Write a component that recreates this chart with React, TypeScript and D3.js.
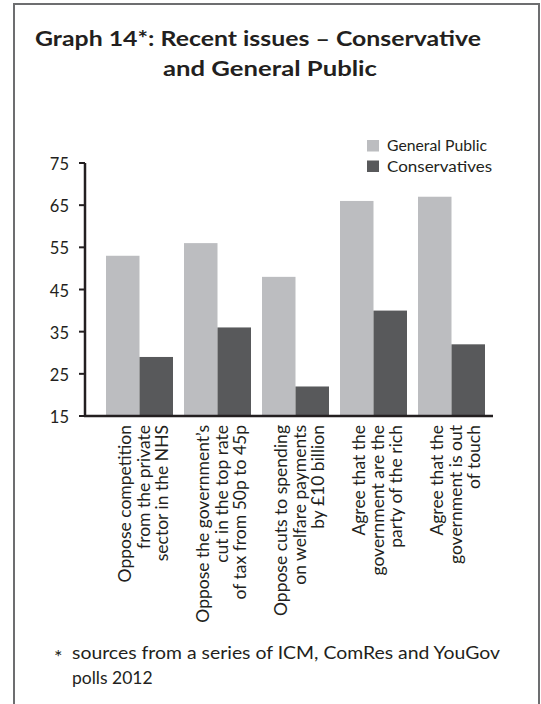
import React from "react";
import * as d3 from "d3";

const categories = ["NHS", "Tax", "Welfare", "Rich", "Touch"];
const labelLines = [
  ["Oppose competition", "from the private", "sector in the NHS"],
  ["Oppose the government’s", "cut in the top rate", "of tax from 50p to 45p"],
  ["Oppose cuts to spending", "on welfare payments", "by £10 billion"],
  ["Agree that the", "government are the", "party of the rich"],
  ["Agree that the", "government is out", "of touch"],
];
const generalPublic = [53, 56, 48, 66, 67];
const conservatives = [29, 36, 22, 40, 32];
const yTicks = [15, 25, 35, 45, 55, 65, 75];
const seriesNames = ["General Public", "Conservatives"];
const titleLines = ["Graph 14*: Recent issues – Conservative", "and General Public"];
const footLines = ["sources from a series of ICM, ComRes and YouGov", "polls 2012"];

const GP_COLOR = "#bcbdc0";
const CON_COLOR = "#58595b";
const TEXT = "#231f20";
const FONT = "Lato, 'Open Sans', sans-serif";

export default function App() {
  const W = 541;
  const H = 704;
  const axisLeft = 85;
  const axisRight = 493;
  const y = d3.scaleLinear().domain([15, 75]).range([416, 163]);
  const step = 78;
  const pi = 11 / step;
  const po = 21 / step;
  const x0 = d3
    .scaleBand<string>()
    .domain(categories)
    .range([axisLeft, axisLeft + step * (categories.length - pi + 2 * po)])
    .paddingInner(pi)
    .paddingOuter(po);
  const x1 = d3
    .scaleBand<string>()
    .domain(seriesNames)
    .range([0, x0.bandwidth()]);
  const colors = [GP_COLOR, CON_COLOR];
  const series = [generalPublic, conservatives];

  return (
    <svg
      width={W}
      height={H}
      style={{ position: "absolute", left: 0, top: 0, background: "#fff" }}
      fontFamily={FONT}
    >
      <rect x={14} y={4} width={525} height={720} fill="#fff" stroke="#6d6e70" strokeWidth={2} />
      {/* Title */}
      <text x={35} y={46} fontSize={21} fontWeight="bold" fill={TEXT} textLength={446} lengthAdjust="spacingAndGlyphs">
        {titleLines[0]}
      </text>
      <text x={163} y={76} fontSize={21} fontWeight="bold" fill={TEXT} textLength={214} lengthAdjust="spacingAndGlyphs">
        {titleLines[1]}
      </text>

      {/* Legend */}
      {seriesNames.map((s, i) => (
        <g key={s}>
          <rect x={367} y={140 + i * 20.5} width={12} height={11.5} fill={colors[i]} />
          <text x={387} y={151 + i * 20.5} fontSize={15.5} fill={TEXT} textLength={i === 0 ? 100 : 105} lengthAdjust="spacingAndGlyphs">
            {s}
          </text>
        </g>
      ))}

      {/* Bars */}
      {categories.map((c, ci) => (
        <g key={c} transform={`translate(${x0(c)},0)`}>
          {series.map((vals, si) => (
            <rect
              key={si}
              x={x1(seriesNames[si])}
              y={y(vals[ci])}
              width={x1.bandwidth()}
              height={y(15) - y(vals[ci])}
              fill={colors[si]}
            />
          ))}
        </g>
      ))}

      {/* Axes */}
      <line x1={axisLeft} x2={axisLeft} y1={y(75)} y2={y(15) + 1} stroke={TEXT} strokeWidth={2.5} />
      <line x1={axisLeft - 1} x2={axisRight} y1={y(15)} y2={y(15)} stroke={TEXT} strokeWidth={2.5} />
      {yTicks.map((t) => (
        <g key={t}>
          <line x1={axisLeft - 6} x2={axisLeft} y1={y(t)} y2={y(t)} stroke={TEXT} strokeWidth={2} />
          <text x={69} y={y(t) + 7} fontSize={16.5} textAnchor="end" fill={TEXT}>
            {t}
          </text>
        </g>
      ))}

      {/* Category labels */}
      {categories.map((c, ci) => {
        const cx = (x0(c) as number) + x0.bandwidth() / 2;
        return labelLines[ci].map((ln, li) => {
          const bx = cx + 10 + (li - 1) * 18.5;
          return (
            <text
              key={c + li}
              transform={`translate(${bx},425) rotate(-90)`}
              textAnchor="end"
              fontSize={17.5}
              fill={TEXT}
            >
              {ln}
            </text>
          );
        });
      })}

      {/* Footnote */}
      <text x={54} y={664} fontSize={20} fill={TEXT}>*</text>
      <text x={72} y={659} fontSize={17.5} fill={TEXT} textLength={428} lengthAdjust="spacingAndGlyphs">
        {footLines[0]}
      </text>
      <text x={72} y={684} fontSize={17.5} fill={TEXT}>
        {footLines[1]}
      </text>
    </svg>
  );
}
